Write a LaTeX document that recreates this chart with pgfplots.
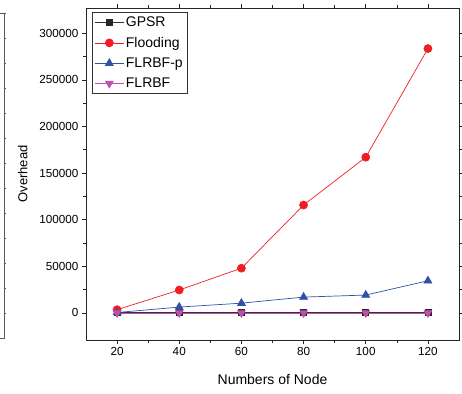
\documentclass[border=0pt]{standalone}
\usepackage{fontspec}
\setmainfont{Liberation Sans}
\usepackage{pgfplots}
\pgfplotsset{compat=1.18}
\definecolor{cblue}{RGB}{50,80,170}
\definecolor{cmag}{RGB}{190,80,170}
\definecolor{cred}{RGB}{240,30,35}
\begin{document}
\begin{tikzpicture}
\useasboundingbox (-86pt,-53pt) rectangle (376pt,340pt);
\draw[gray!70!black,line width=0.6pt] (-86pt,2pt) -- (-82pt,2pt) -- (-82pt,327pt) -- (-86pt,327pt);
\foreach \k in {1,...,13} {\draw[gray!70!black,line width=0.5pt] (-82pt,{2pt+\k*25pt}) -- (-80pt,{2pt+\k*25pt});}
\begin{axis}[
  at={(0,0)}, anchor=south west,
  scale only axis, width=373pt, height=332pt,
  xmin=10, xmax=130, ymin=-29000, ymax=327000,
  xtick={20,40,60,80,100,120},
  minor x tick num=1,
  ytick={0,50000,100000,150000,200000,250000,300000},
  minor y tick num=1,
  scaled y ticks=false,
  yticklabel style={/pgf/number format/fixed,/pgf/number format/1000 sep={}},
  /pgf/number format/assume math mode=true,
  tick label style={font=\fontsize{11.7}{13}\selectfont},
  tick align=outside,
  major tick length=4pt, minor tick length=2.5pt,
  axis line style={line width=0.8pt, black!85},
  tick style={line width=0.6pt, black!85},
  xlabel={Numbers of Node}, ylabel={Overhead},
  xlabel style={font=\fontsize{14}{16}\selectfont, yshift=-12pt},
  ylabel style={font=\fontsize{13}{15}\selectfont, yshift=5pt},
  legend style={at={(0.016,0.988)}, anchor=north west, font=\fontsize{14}{16}\selectfont,
    draw=black!80, line width=0.6pt, inner sep=2.5pt, row sep=5pt},
  legend cell align=left,
  legend image code/.code={\draw[mark repeat=2,mark phase=2] plot coordinates {(0cm,0cm) (0.5cm,0cm) (1cm,0cm)};},
  every axis plot/.append style={line width=0.7pt},
]
\addplot[black!80, mark=square*, mark size=3pt, mark options={fill=black!85, draw=black!85}] coordinates {(20,300) (40,300) (60,300) (80,300) (100,300) (120,300)};
\addlegendentry{GPSR}
\addplot[cred, mark=*, mark size=4pt] coordinates {(20,3500) (40,24600) (60,48000) (80,115700) (100,167000) (120,283500)};
\addlegendentry{Flooding}
\addplot[cblue, mark=triangle*, mark size=4.5pt] coordinates {(20,500) (40,6300) (60,10500) (80,17000) (100,19200) (120,34500)};
\addlegendentry{FLRBF-p}
\addplot[cmag, mark=triangle*, mark size=4.5pt, mark options={rotate=180}] coordinates {(20,100) (40,100) (60,100) (80,100) (100,100) (120,100)};
\addlegendentry{FLRBF}
\end{axis}
\end{tikzpicture}
\end{document}
